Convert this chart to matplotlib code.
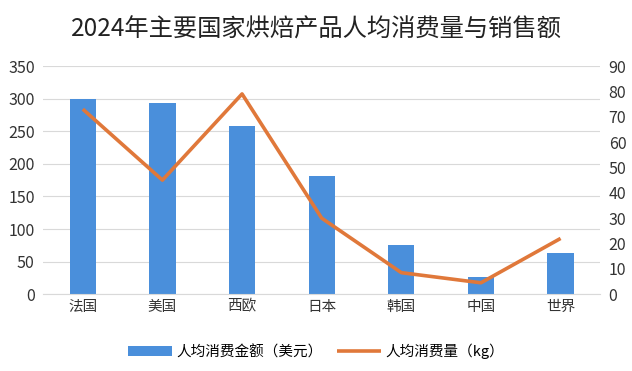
import numpy as np
import matplotlib.pyplot as plt

plt.rcParams['font.family'] = ['Noto Sans CJK SC', 'DejaVu Sans']

categories = ['法国', '美国', '西欧', '日本', '韩国', '中国', '世界']
spend_usd = [300, 294, 258, 181, 75, 27, 63]
consumption_kg = [73, 45, 79, 30, 8.5, 4.5, 22]

fig = plt.figure(figsize=(6.32, 3.71), dpi=100)
ax = fig.add_axes([0.068, 0.207, 0.882, 0.615])
ax2 = ax.twinx()

x = np.arange(len(categories))
bars = ax.bar(x, spend_usd, width=0.33, color='#4a8fdb', zorder=2,
              label='人均消费金额（美元）')
line, = ax2.plot(x, consumption_kg, color='#e0783a', lw=2.6, zorder=3,
                 solid_capstyle='butt', label='人均消费量（kg）')

ax.set_xlim(-0.5, len(categories) - 0.5)
ax.set_ylim(0, 350)
ax.set_yticks(range(0, 351, 50))
ax2.set_ylim(0, 90)
ax2.set_yticks(range(0, 91, 10))
ax.set_xticks(x)
ax.set_xticklabels(categories)

ax.grid(axis='y', color='#d9d9d9', lw=0.8, zorder=0)
ax.set_axisbelow(True)
for a in (ax, ax2):
    for s in a.spines.values():
        s.set_visible(False)
    a.tick_params(length=0, labelsize=11.5, colors='#333333')
ax.spines['bottom'].set_visible(True)
ax.spines['bottom'].set_color('#d9d9d9')
ax.tick_params(axis='y', pad=6)
ax.tick_params(axis='x', pad=4, labelsize=10.5)
ax2.tick_params(axis='y', pad=6)
ax2.set_zorder(ax.get_zorder() + 1)
ax2.patch.set_visible(False)

fig.suptitle('2024年主要国家烘焙产品人均消费量与销售额', y=0.955, fontsize=17.5,
             color='#222222')
fig.legend(handles=[bars, line], loc='center', bbox_to_anchor=(0.5, 0.052),
           ncol=2, frameon=False, fontsize=10.5, handlelength=3.0,
           columnspacing=1.0, handletextpad=0.3)

fig.savefig('out.png', dpi=100, facecolor='white')
